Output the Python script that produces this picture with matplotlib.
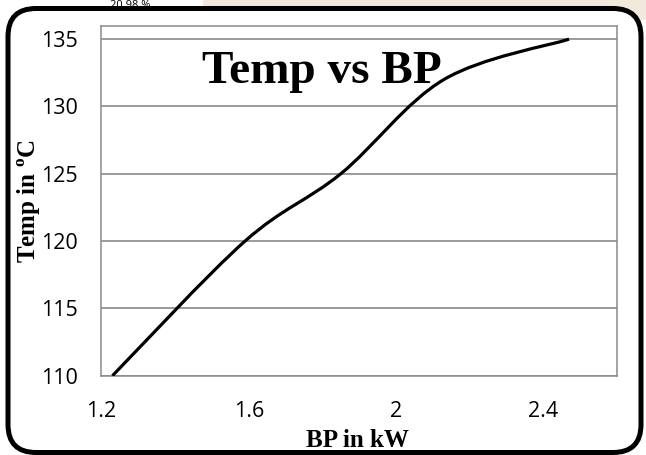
import numpy as np
import matplotlib
matplotlib.use("Agg")
import matplotlib.pyplot as plt
from matplotlib.path import Path
from matplotlib.patches import PathPatch, FancyBboxPatch, Rectangle

# data
bp_kw = [1.23, 1.59, 1.85, 2.13, 2.47]
temp_c = [110, 120, 125, 132, 135]
x_ticks = [1.2, 1.6, 2.0, 2.4]
x_tick_labels = ["1.2", "1.6", "2", "2.4"]
y_ticks = [110, 115, 120, 125, 130, 135]

GRID = "#8a8a8a"


def smooth_path(xs, ys):
    # spreadsheet-style smoothed line: cubic bezier through every data point
    pts = np.column_stack([xs, ys]).astype(float)
    n = len(pts)
    verts = [pts[0]]
    codes = [Path.MOVETO]
    for i in range(n - 1):
        p0 = pts[i - 1] if i > 0 else pts[i]
        p3 = pts[i + 2] if i + 2 < n else pts[i + 1]
        c1 = pts[i] + (pts[i + 1] - p0) / 6
        c2 = pts[i + 1] - (p3 - pts[i]) / 6
        verts += [c1, c2, pts[i + 1]]
        codes += [Path.CURVE4] * 3
    return Path(verts, codes)


plt.rcParams["mathtext.fontset"] = "custom"
plt.rcParams["mathtext.rm"] = "Liberation Serif:bold"
plt.rcParams["mathtext.bf"] = "Liberation Serif:bold"

fig = plt.figure(figsize=(6.46, 4.55), dpi=100)
fig.patch.set_facecolor("white")

# faint page background peeking out above the framed chart
fig.add_artist(Rectangle((0.315, 0.955), 0.685, 0.045, transform=fig.transFigure,
                         facecolor="#f3e8dc", edgecolor="none", zorder=-3))
fig.text(0.17, 0.999, "20.98 %.", fontsize=8, family="Open Sans", va="top",
         color="black", zorder=-2)

# rounded frame (pixel coordinates)
frame = FancyBboxPatch((8, 2.5), 633, 444, boxstyle="round,pad=0,rounding_size=28",
                       transform=None, facecolor="white", edgecolor="black",
                       linewidth=3.6, zorder=-1)
fig.add_artist(frame)

ax = fig.add_axes([0.157, 0.1743, 0.798, 0.7692])
ax.set_facecolor("white")
ax.add_patch(PathPatch(smooth_path(bp_kw, temp_c), facecolor="none",
                       edgecolor="black", linewidth=2.3, capstyle="butt", zorder=3))

ax.set_xlim(1.2, 2.6)
ax.set_ylim(110, 136)
ax.set_xticks(x_ticks)
ax.set_xticklabels(x_tick_labels)
ax.set_yticks(y_ticks)
ax.grid(axis="y", color=GRID, linewidth=1.2)
ax.set_axisbelow(True)
for s in ax.spines.values():
    s.set_color(GRID)
    s.set_linewidth(1.1)
ax.tick_params(axis="both", length=0, labelsize=15.5)
ax.tick_params(axis="x", pad=18)
ax.tick_params(axis="y", pad=17)
for lab in ax.get_xticklabels() + ax.get_yticklabels():
    lab.set_family("Open Sans")

fig.text(0.498, 0.817, "Temp vs BP", ha="center", va="baseline",
         family="Liberation Serif", weight="bold", fontsize=34)
fig.text(0.045, 0.557, r"Temp in $^{\mathbf{o}}$C", ha="center", va="center",
         rotation=90, family="Liberation Serif", weight="bold", fontsize=18)
fig.text(0.554, 0.0176, "BP in kW", ha="center", va="baseline",
         family="Liberation Serif", weight="bold", fontsize=18)

fig.savefig("out.png", dpi=100)
